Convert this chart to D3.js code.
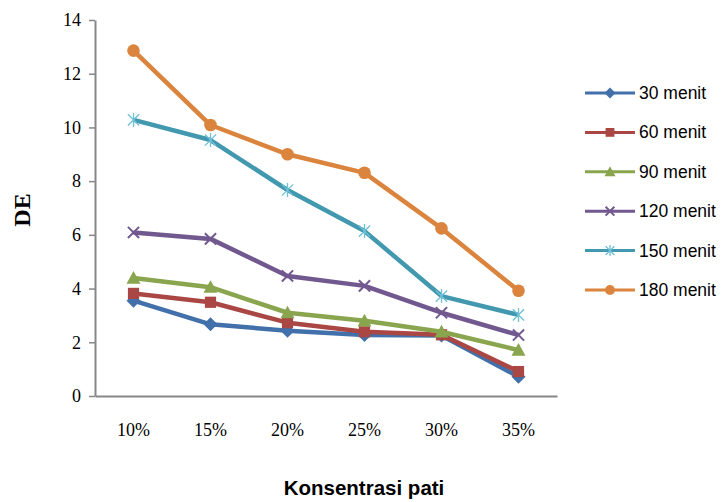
<!DOCTYPE html>
<html>
<head>
<meta charset="utf-8">
<script src="https://cdn.jsdelivr.net/npm/d3@7/dist/d3.min.js"></script>
<style>
  html, body { margin: 0; padding: 0; background: #fff; }
  svg { display: block; }
</style>
</head>
<body>
<svg id="chart" width="723" height="502"></svg>
<script>
// Starch concentration categories (x axis)
const categories = ["10%", "15%", "20%", "25%", "30%", "35%"];

// DE values per heating time
const menit30  = [3.55, 2.67, 2.43, 2.27, 2.25, 0.72];
const menit60  = [3.82, 3.49, 2.73, 2.39, 2.28, 0.91];
const menit90  = [4.39, 4.05, 3.10, 2.80, 2.39, 1.71];
const menit120 = [6.09, 5.85, 4.47, 4.10, 3.10, 2.27];
const menit150 = [10.28, 9.53, 7.67, 6.14, 3.72, 3.02];
const menit180 = [12.86, 10.09, 9.00, 8.31, 6.24, 3.92];

const seriesNames = ["30 menit", "60 menit", "90 menit", "120 menit", "150 menit", "180 menit"];
const yTicks = [0, 2, 4, 6, 8, 10, 12, 14];

const seriesValues = [menit30, menit60, menit90, menit120, menit150, menit180];
const colors = ["#4170AA", "#AA4643", "#89A54E", "#71588F", "#4198AF", "#DB843D"];
const shapes = ["diamond", "square", "triangle", "x", "star", "circle"];

const series = seriesNames.map((name, i) => ({
  name, values: seriesValues[i], color: colors[i], shape: shapes[i]
}));

const svg = d3.select("#chart");
const plot = { left: 95, right: 557, top: 20, bottom: 396 };

const x = d3.scaleBand().domain(categories).range([plot.left, plot.right]).padding(0);
const cx = c => x(c) + x.bandwidth() / 2;
const y = d3.scaleLinear().domain([0, 14]).range([plot.bottom, plot.top]);

const axisColor = "#878787";
const serif = "'Liberation Serif', 'Times New Roman', serif";
const sans = "'Liberation Sans', Arial, sans-serif";

// Y axis
const yAxis = svg.append("g")
  .attr("transform", `translate(${plot.left},0)`)
  .call(d3.axisLeft(y).tickValues(yTicks).tickSize(6).tickSizeOuter(0).tickPadding(8));
yAxis.select(".domain").attr("stroke", axisColor).attr("stroke-width", 2);
yAxis.selectAll(".tick line").attr("stroke", axisColor).attr("stroke-width", 1.5);
yAxis.selectAll(".tick text")
  .attr("font-family", serif)
  .attr("font-size", 18).attr("fill", "#000");

// X axis (baseline plus category labels)
const xAxis = svg.append("g")
  .attr("transform", `translate(0,${plot.bottom})`)
  .call(d3.axisBottom(x).tickSize(0).tickSizeOuter(0).tickPadding(27));
xAxis.select(".domain").attr("stroke", axisColor).attr("stroke-width", 2);
xAxis.selectAll(".tick text")
  .attr("font-family", serif)
  .attr("font-size", 18).attr("fill", "#000");

// Axis titles
svg.append("text")
  .attr("transform", "translate(30,210) rotate(-90)")
  .attr("text-anchor", "middle")
  .attr("font-family", serif)
  .attr("font-weight", "bold").attr("font-size", 24)
  .text("DE");

svg.append("text")
  .attr("x", 364).attr("y", 495)
  .attr("text-anchor", "middle")
  .attr("font-family", sans)
  .attr("font-weight", "bold").attr("font-size", 20.5)
  .text("Konsentrasi pati");

// Marker paths centred at (0,0)
function markerPath(shape, s) {
  switch (shape) {
    case "diamond": return `M0,${-s}L${s},0L0,${s}L${-s},0Z`;
    case "square": return `M${-s * 0.8},${-s * 0.8}H${s * 0.8}V${s * 0.8}H${-s * 0.8}Z`;
    case "triangle": return `M0,${-s}L${s},${s * 0.8}L${-s},${s * 0.8}Z`;
    case "x": return `M${-s * 0.8},${-s * 0.8}L${s * 0.8},${s * 0.8}M${s * 0.8},${-s * 0.8}L${-s * 0.8},${s * 0.8}`;
    case "star": return `M${-s * 0.8},${-s * 0.8}L${s * 0.8},${s * 0.8}M${s * 0.8},${-s * 0.8}L${-s * 0.8},${s * 0.8}M0,${-s}V${s}`;
    case "circle": return d3.arc()({ innerRadius: 0, outerRadius: s * 0.9, startAngle: 0, endAngle: 2 * Math.PI });
  }
}
const strokeShapes = new Set(["x", "star"]);

function drawMarker(g, shape, color, px, py, s) {
  const p = g.append("path")
    .attr("d", markerPath(shape, s))
    .attr("transform", `translate(${px},${py})`);
  if (strokeShapes.has(shape)) {
    p.attr("fill", "none")
      .attr("stroke", shape === "star" ? "#6FC0D6" : color)
      .attr("stroke-width", shape === "star" ? 1.3 : 2);
  } else {
    p.attr("fill", color);
  }
}

const line = d3.line().x((d, i) => cx(categories[i])).y(d => y(d));

// Series lines and markers
series.forEach(sr => {
  const g = svg.append("g");
  g.append("path")
    .datum(sr.values)
    .attr("d", line)
    .attr("fill", "none")
    .attr("stroke", sr.color)
    .attr("stroke-width", 4.5)
    .attr("stroke-linejoin", "round");
  sr.values.forEach((v, i) => drawMarker(g, sr.shape, sr.color, cx(categories[i]), y(v), 7));
});

// Legend
const legend = svg.append("g");
series.forEach((sr, i) => {
  const ly = 93 + i * 39.4;
  legend.append("line")
    .attr("x1", 585).attr("x2", 635).attr("y1", ly).attr("y2", ly)
    .attr("stroke", sr.color).attr("stroke-width", 3);
  drawMarker(legend, sr.shape, sr.color, 610, ly, 5.5);
  legend.append("text")
    .attr("x", 639).attr("y", ly + 6)
    .attr("font-family", sans)
    .attr("font-size", 17.5).attr("fill", "#000")
    .text(sr.name);
});
</script>
</body>
</html>
